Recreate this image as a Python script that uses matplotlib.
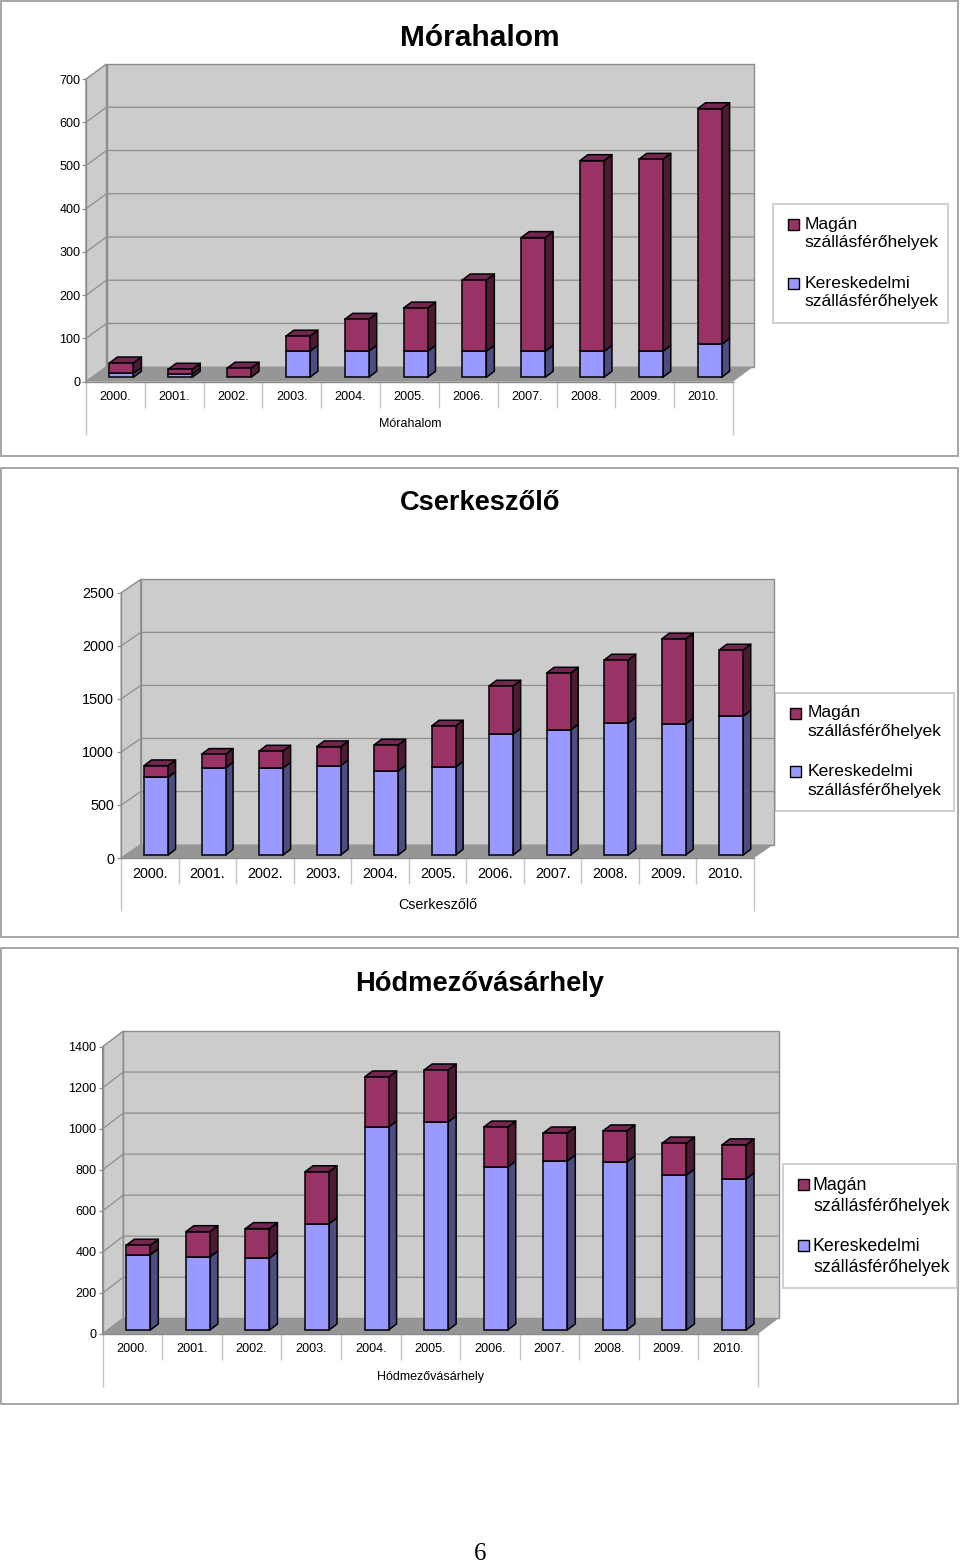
import matplotlib
matplotlib.use('Agg')
import matplotlib.pyplot as plt
from matplotlib.patches import Polygon, Rectangle

plt.rcParams['font.family'] = ['Liberation Sans', 'DejaVu Sans']

years = ['2000.', '2001.', '2002.', '2003.', '2004.', '2005.', '2006.', '2007.', '2008.', '2009.', '2010.']

# Kereskedelmi / Magán values
mora_ker = [9, 7, 0, 60, 60, 60, 60, 60, 60, 60, 76]
mora_mag = [24, 11.5, 21, 35, 74, 100, 165, 263, 441, 444, 545]
cser_ker = [732, 820, 820, 842, 792, 829, 1140, 1178, 1244, 1235, 1310]
cser_mag = [110, 129, 160, 179, 245, 387, 453, 537, 594, 801, 622]
hod_ker = [367, 356, 351, 518, 989, 1014, 794, 824, 819, 755, 736]
hod_mag = [46, 123, 143, 253, 244, 253, 195, 136, 151, 156, 166]

# colours
c_wall = '#cccccc'; c_floor = '#969696'; c_grid = '#8e8e8e'; c_tick = '#c4c4c4'
c_mag = ('#993366', '#4d1a33', '#732650')
c_ker = ('#9999ff', '#4d4d80', '#7373bf')

W, H = 960, 1563
fig = plt.figure(figsize=(W / 100, H / 100), dpi=100)

# page-wide axes in pixels for frames, titles and legends
page = fig.add_axes([0, 0, 1, 1])
page.set_xlim(0, W)
page.set_ylim(H, 0)
page.axis('off')


def draw_face(ax, pts, color, z):
    ax.add_patch(Polygon(pts, closed=True, facecolor=color, edgecolor='black', linewidth=1.1,
                         zorder=z, clip_on=False, joinstyle='round'))


def draw_chart(title, ker, mag, ymax, step, frame, plot, depth, shift, bar_px, bar_depth,
               title_y, title_size, tick_size, y_pad, name_xy, name_size, legend, leg_size, leg_text_x):
    fx0, fy0, fx1, fy1 = frame
    page.add_patch(Rectangle((fx0, fy0), fx1 - fx0, fy1 - fy0, facecolor='white', edgecolor='#a6a6a6', linewidth=1.4))
    page.text(W / 2, title_y, title, fontsize=title_size, fontweight='bold', ha='center', va='center')

    px0, ptop, px1, pzero = plot
    ax = fig.add_axes([px0 / W, 1 - pzero / H, (px1 - px0) / W, (pzero - ptop) / H])
    ax.patch.set_visible(False)
    n = len(ker)
    ax.set_xlim(0, n)
    ax.set_ylim(0, ymax)
    ux = (px1 - px0) / n       # px per category
    uy = (pzero - ptop) / ymax  # px per unit
    dx, dy = depth[0] / ux, depth[1] / uy
    wall = dict(edgecolor='#8c8c8c', linewidth=1.0, zorder=1, clip_on=False)

    # walls and floor
    ax.add_patch(Polygon([(0, 0), (dx, dy), (dx, ymax + dy), (0, ymax)], facecolor=c_wall, **wall))
    ax.add_patch(Polygon([(dx, dy), (n + dx, dy), (n + dx, ymax + dy), (dx, ymax + dy)], facecolor=c_wall, **wall))
    ax.add_patch(Polygon([(0, 0), (dx, dy), (n + dx, dy), (n, 0)], facecolor=c_floor, edgecolor='none', zorder=1.5, clip_on=False))
    for v in range(step, ymax, step):
        ax.plot([0, dx, n + dx], [v, v + dy, v + dy], color=c_grid, lw=0.9, zorder=1.2, clip_on=False)

    # stacked bars
    sx, sy = shift[0] / ux, shift[1] / uy
    bw = bar_px / ux
    bdx, bdy = bar_depth[0] / ux, bar_depth[1] / uy
    edge = dict(edgecolor='black', linewidth=1.1, zorder=4, clip_on=False)
    for i in range(n):
        left = i + 0.5 + sx - bw / 2
        right = left + bw
        base = sy
        top1 = sy + ker[i]
        top2 = top1 + mag[i]
        if ker[i] > 0:
            ax.bar(left, ker[i], bw, bottom=base, align='edge', color=c_ker[0], **edge)
            draw_face(ax, [(right, base), (right + bdx, base + bdy), (right + bdx, top1 + bdy), (right, top1)], c_ker[1], 3)
        ax.bar(left, mag[i], bw, bottom=top1, align='edge', color=c_mag[0], **edge)
        draw_face(ax, [(right, top1), (right + bdx, top1 + bdy), (right + bdx, top2 + bdy), (right, top2)], c_mag[1], 3)
        draw_face(ax, [(left, top2), (left + bdx, top2 + bdy), (right + bdx, top2 + bdy), (right, top2)], c_mag[2], 3)

    # axes
    for s in ['top', 'right', 'bottom']:
        ax.spines[s].set_visible(False)
    ax.spines['left'].set_color('#8c8c8c')
    ax.spines['left'].set_linewidth(1.0)
    ax.set_yticks(range(0, ymax + 1, step))
    ax.tick_params(axis='y', length=3, width=0.9, color='#8c8c8c', labelsize=tick_size, pad=y_pad)
    ax.set_xticks(range(n + 1))
    ax.set_xticklabels([])
    ax.tick_params(axis='x', which='major', length=19, width=1, color=c_tick)
    ax.set_xticks([i + 0.5 for i in range(n)], years, minor=True)
    ax.tick_params(axis='x', which='minor', length=0, labelsize=tick_size, pad=6.8)
    ticks = ax.xaxis.get_major_ticks()
    ticks[0].tick1line.set_markersize(38)
    ticks[-1].tick1line.set_markersize(38)
    ax.plot([0, n], [0, 0], color='#8c8c8c', lw=1.0, zorder=2, clip_on=False)

    page.text(name_xy[0], name_xy[1], title, fontsize=name_size, ha='center', va='center')

    # legend box
    lx0, ly0, lx1, ly1 = legend
    page.add_patch(Rectangle((lx0, ly0), lx1 - lx0, ly1 - ly0, facecolor='white', edgecolor='#c8c8c8', linewidth=1.2))
    gap = (ly1 - ly0) / 2
    entries = [('Magán\nszállásférőhelyek', c_mag[0]), ('Kereskedelmi\nszállásférőhelyek', c_ker[0])]
    for k, (lab, col) in enumerate(entries):
        y = ly0 + 20 + k * (gap - 0.5)
        page.add_patch(Rectangle((lx0 + 15, y - 5.5), 11, 11, facecolor=col, edgecolor='black', linewidth=1.0))
        page.text(lx0 + leg_text_x, y - 7.5, lab, fontsize=leg_size, ha='left', va='top', linespacing=1.32)


draw_chart('Mórahalom', mora_ker, mora_mag, 700, 100, (1, 1, 958, 456), (86, 79, 733, 381.7),
           (20.5, 15), (6, 4.4), 24, (8, 6), 38, 21.5, 9.1, 1, (410, 424), 9, (773, 204, 948, 323), 12.6, 31.5)
draw_chart('Cserkeszőlő', cser_ker, cser_mag, 2500, 500, (1, 468, 958, 937), (121.3, 592.7, 754, 858),
           (19.5, 13.4), (6, 3), 24, (7.5, 5.7), 503, 19.6, 10.4, 2.2, (438, 905), 10.3, (775, 693, 954, 811), 12.6, 32.5)
draw_chart('Hódmezővásárhely', hod_ker, hod_mag, 1400, 200, (1, 948, 958, 1404), (102.7, 1046.7, 758, 1334),
           (20.6, 15.7), (5.8, 4), 24, (8, 6), 984, 19.6, 9.1, 1.5, (430, 1377), 9, (783, 1164, 957, 1288), 12.8, 30)

page.text(480, 1554, '6', fontsize=18, family='Liberation Serif', ha='center', va='center')

fig.savefig('out.png', dpi=100)
